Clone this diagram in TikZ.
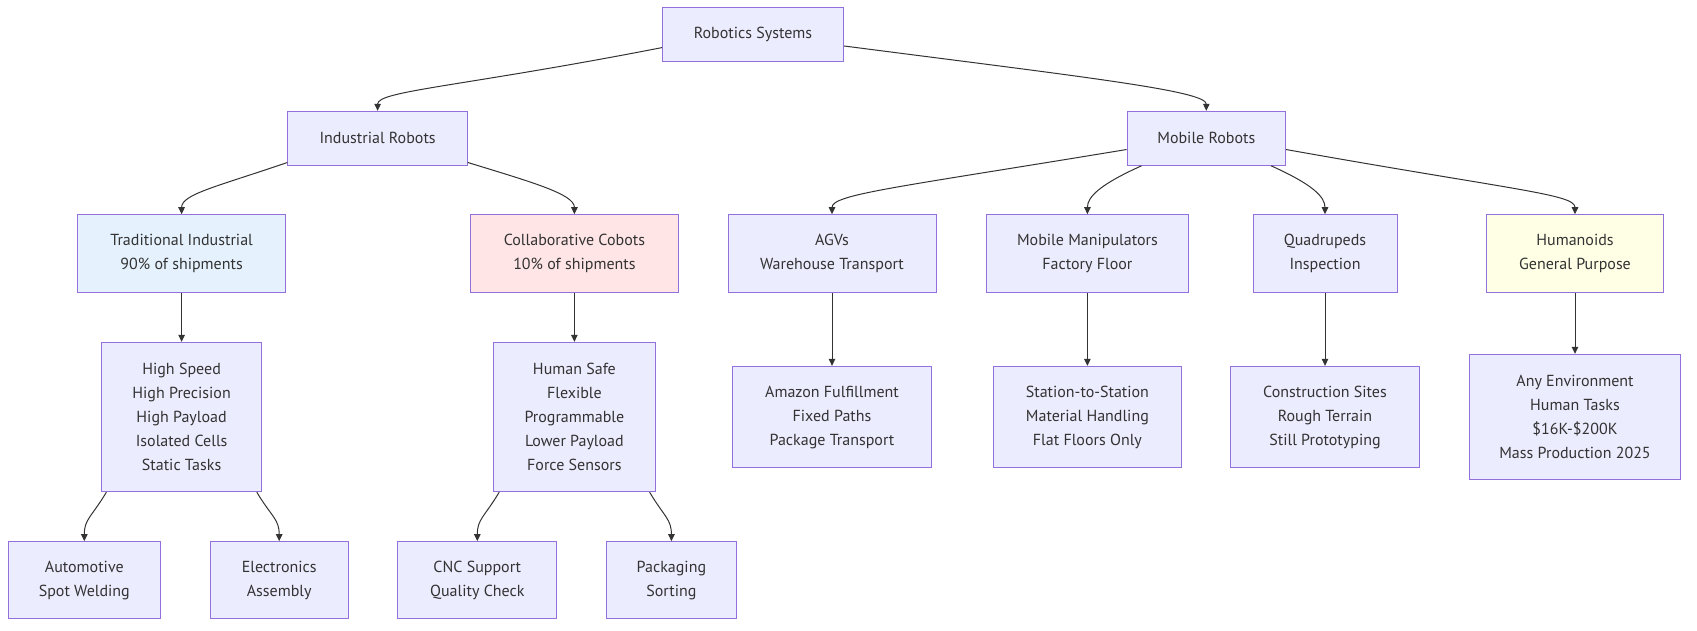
\documentclass[tikz,border=0pt]{standalone}
\usepackage{fontspec}
\setmainfont{PT Sans}
\usetikzlibrary{arrows.meta}
\definecolor{boxfill}{HTML}{ECECFF}
\definecolor{boxline}{HTML}{9370DB}
\definecolor{linkcol}{HTML}{333333}
\definecolor{bluefill}{HTML}{E5F2FE}
\definecolor{redfill}{HTML}{FFE5E5}
\definecolor{yellowfill}{HTML}{FFFFE5}
\tikzset{
  box/.style={draw=boxline, fill=boxfill, line width=1pt, inner sep=0pt, align=center,
    font=\fontsize{16}{24}\selectfont, text=linkcol},
  link/.style={draw=linkcol, line width=1pt, -{Triangle[length=7pt,width=6.5pt]}}
}
\begin{document}
\begin{tikzpicture}[x=1pt, y=-1pt]

    \useasboundingbox (0,0) rectangle (1697,630);

    \node[box, minimum width=181pt, minimum height=53.7pt] (root) at (753,34.8) {Robotics Systems};

    \node[box, minimum width=179.4pt, minimum height=54pt] (ind) at (377.6,138.3) {Industrial Robots};
    \node[box, minimum width=158.3pt, minimum height=54pt] (mob) at (1206.3,138.3) {Mobile Robots};

    \node[box, fill=bluefill, minimum width=208pt, minimum height=78pt] (trad) at (181.6,253.7) {Traditional Industrial\\90\% of shipments};
    \node[box, fill=redfill, minimum width=208.7pt, minimum height=78pt] (collab) at (574.4,253.7) {Collaborative Cobots\\10\% of shipments};
    \node[box, minimum width=208pt, minimum height=78pt] (agv) at (832,253.7) {AGVs\\Warehouse Transport};
    \node[box, minimum width=202.6pt, minimum height=78pt] (manip) at (1087.4,253.7) {Mobile Manipulators\\Factory Floor};
    \node[box, minimum width=144pt, minimum height=78pt] (quad) at (1325,253.7) {Quadrupeds\\Inspection};
    \node[box, fill=yellowfill, minimum width=177pt, minimum height=78pt] (human) at (1575,253.7) {Humanoids\\General Purpose};

    \node[box, minimum width=160pt, minimum height=149.4pt] (speed) at (181.6,417) {High Speed\\High Precision\\High Payload\\Isolated Cells\\Static Tasks};
    \node[box, minimum width=162.7pt, minimum height=149.4pt] (safe) at (574.4,417) {Human Safe\\Flexible\\Programmable\\Lower Payload\\Force Sensors};
    \node[box, minimum width=199pt, minimum height=101.3pt] (amazon) at (832,417) {Amazon Fulfillment\\Fixed Paths\\Package Transport};
    \node[box, minimum width=187.4pt, minimum height=101.3pt] (station) at (1087.4,417) {Station-to-Station\\Material Handling\\Flat Floors Only};
    \node[box, minimum width=189pt, minimum height=101.3pt] (site) at (1325,417) {Construction Sites\\Rough Terrain\\Still Prototyping};
    \node[box, minimum width=211.8pt, minimum height=125pt] (any) at (1575,416.8) {Any Environment\\Human Tasks\\\$16K-\$200K\\Mass Production 2025};

    \node[box, minimum width=152.4pt, minimum height=77.3pt] (auto) at (84.3,580.3) {Automotive\\Spot Welding};
    \node[box, minimum width=137.7pt, minimum height=77.3pt] (elec) at (279.2,580.3) {Electronics\\Assembly};
    \node[box, minimum width=158.8pt, minimum height=77.3pt] (cnc) at (477.3,580.3) {CNC Support\\Quality Check};
    \node[box, minimum width=129.6pt, minimum height=77.3pt] (pack) at (671.4,580.3) {Packaging\\Sorting};

    \draw[link] (root.188) .. controls +(-200,39) and +(0,-20) .. (ind.north);
    \draw[link] (root.-7) .. controls +(240,31) and +(0,-20) .. (mob.north);
    \draw[link] (ind.195) .. controls +(-70,24) and +(0,-20) .. (trad.north);
    \draw[link] (ind.-15) .. controls +(65,20) and +(0,-20) .. (collab.north);
    \draw[link] (mob.188) .. controls +(-230,38) and +(0,-20) .. (agv.north);
    \draw[link] (mob.203) .. controls +(-40,18) and +(0,-18) .. (manip.north);
    \draw[link] (mob.-23) .. controls +(40,18) and +(0,-18) .. (quad.north);
    \draw[link] (mob.-8) .. controls +(230,41) and +(0,-20) .. (human.north);

    \foreach \a/\b in {trad/speed, collab/safe, agv/amazon, manip/station, quad/site, human/any}
    \draw[link] (\a.south) -- (\b.north);

    \draw[link] (speed.225) .. controls +(-15,25) and +(0,-22) .. (auto.north);
    \draw[link] (speed.-45) .. controls +(15,25) and +(0,-22) .. (elec.north);
    \draw[link] (safe.225) .. controls +(-15,25) and +(0,-22) .. (cnc.north);
    \draw[link] (safe.-45) .. controls +(15,25) and +(0,-22) .. (pack.north);

\end{tikzpicture}
\end{document}
